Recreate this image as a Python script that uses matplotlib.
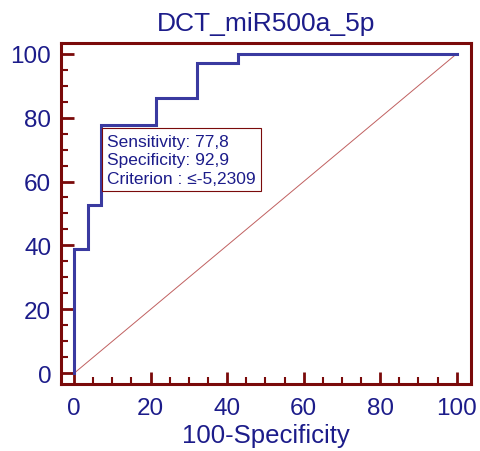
import matplotlib
matplotlib.use("Agg")
import matplotlib.pyplot as plt
from matplotlib.ticker import MultipleLocator

plt.rcParams['font.family'] = ['Liberation Sans', 'DejaVu Sans']

# ROC curve points (100-Specificity, Sensitivity)
fpr = [0, 0, 3.57, 3.57, 7.14, 7.14, 21.43, 21.43, 32.14, 32.14, 42.86, 42.86, 100]
tpr = [0, 38.9, 38.9, 52.8, 52.8, 77.8, 77.8, 86.1, 86.1, 97.2, 97.2, 100, 100]
diag = [0, 100]

title = "DCT_miR500a_5p"
info = "Sensitivity: 77,8\nSpecificity: 92,9\nCriterion : \u2264-5,2309"

navy = '#1c1c8a'
frame = '#7a0a0a'

fig = plt.figure(figsize=(4.81, 4.52), dpi=100)
ax = fig.add_axes([0.127, 0.148, 0.852, 0.755])

ax.plot(diag, diag, color='#c06060', lw=0.7)
ax.plot(fpr, tpr, color='#3a3aa0', lw=2.2, solid_joinstyle='miter')

ax.set_xlim(-3.4, 103.7)
ax.set_ylim(-3.4, 103.4)
ax.xaxis.set_major_locator(MultipleLocator(20))
ax.yaxis.set_major_locator(MultipleLocator(20))
ax.xaxis.set_minor_locator(MultipleLocator(5))
ax.yaxis.set_minor_locator(MultipleLocator(5))

for s in ax.spines.values():
    s.set_color(frame)
    s.set_linewidth(2.2)

ax.tick_params(which='major', direction='in', length=9, width=2, color=frame,
               labelsize=17.5, labelcolor=navy, pad=7)
ax.tick_params(which='minor', direction='in', length=5, width=1.5, color=frame)
ax.tick_params(axis='x', pad=9)

ax.set_title(title, fontsize=19, color=navy, pad=9)
ax.set_xlabel("100-Specificity", fontsize=18.5, color=navy, labelpad=3)

ax.text(8.7, 75.0, info, fontsize=12.5, color=navy, va='top', ha='left',
        linespacing=1.3,
        bbox=dict(boxstyle='square,pad=0.3', fc='white', ec=frame, lw=0.8))

fig.savefig("out.png", dpi=100)
